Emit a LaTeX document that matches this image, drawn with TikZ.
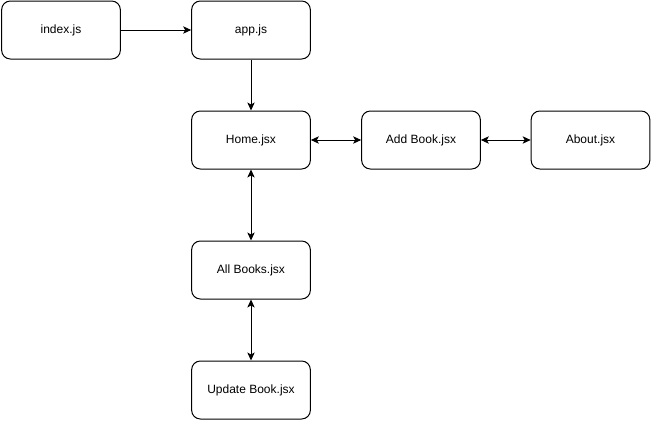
\documentclass[tikz,border=0pt]{standalone}
\usepackage{fontspec}
\setmainfont{Liberation Sans}
\usetikzlibrary{arrows.meta}
\begin{document}
\begin{tikzpicture}[
  x=0.75pt, y=-0.75pt,
  file/.style={draw, rounded corners=6.5pt, minimum width=89pt, minimum height=43.5pt,
               font=\fontsize{9}{11}\selectfont, line width=0.75pt, inner sep=0pt},
  link/.style={line width=0.75pt, -{Stealth[length=6pt, width=5.5pt, inset=1.5pt]}},
  both/.style={line width=0.75pt, {Stealth[length=6pt, width=5.5pt, inset=1.5pt]}-{Stealth[length=6pt, width=5.5pt, inset=1.5pt]}},
]
\useasboundingbox (0,0) rectangle (651,421);
\node[file] (index)  at (61,30)   {index.js};
\node[file] (app)    at (251,30)  {app.js};
\node[file] (home)   at (251,140) {Home.jsx};
\node[file] (add)    at (421,140) {Add Book.jsx};
\node[file] (about)  at (590.5,140) {About.jsx};
\node[file] (all)    at (251,270) {All Books.jsx};
\node[file] (update) at (251,390) {Update Book.jsx};

\draw[link] (index) -- (app);
\draw[link] (app) -- (home);
\draw[both] (home) -- (add);
\draw[both] (add) -- (about);
\draw[both] (home) -- (all);
\draw[both] (all) -- (update);
\end{tikzpicture}
\end{document}
